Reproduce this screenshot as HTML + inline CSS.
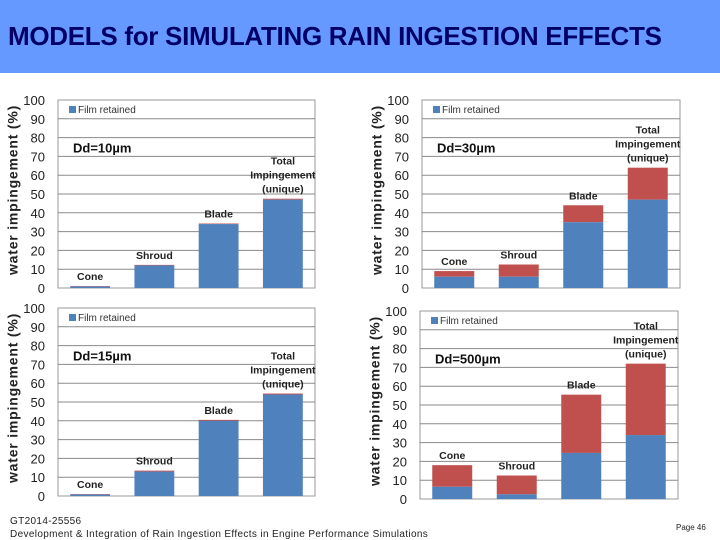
<!DOCTYPE html>
<html><head><meta charset="utf-8"><style>
body{margin:0;width:720px;height:540px;overflow:hidden;background:#fff;font-family:"Liberation Sans",sans-serif}
#hdr{position:absolute;left:0;top:0;width:720px;height:73px;background:#6699ff}
#ttl{position:absolute;left:8px;top:21px;font-size:26px;font-weight:bold;color:#000066;letter-spacing:-0.3px}
svg{position:absolute;left:0;top:0}
.ft{position:absolute;font-size:10px;color:#222;letter-spacing:0.35px}
</style></head><body>
<div id="hdr"><div id="ttl">MODELS for SIMULATING RAIN INGESTION EFFECTS</div></div>
<svg id="chart" width="720" height="540"></svg>
<div class="ft" style="left:10px;top:516px">GT2014-25556</div>
<div class="ft" style="left:10px;top:529px">Development &amp; Integration of Rain Ingestion Effects in Engine Performance Simulations</div>
<div class="ft" style="left:676px;top:523px;font-size:8px;letter-spacing:0">Page 46</div>
<script>
const categories=["Cone","Shroud","Blade","Total Impingement (unique)"];
const dropLabels=["Dd=10µm","Dd=30µm","Dd=15µm","Dd=500µm"];
const filmRetained10=[0.8,12,34,47];
const total10=[1,12.3,34.3,47.5];
const filmRetained30=[6,6,35,47];
const total30=[9,12.5,44,64];
const filmRetained15=[0.8,13,40,54];
const total15=[1,13.5,40.5,54.5];
const filmRetained500=[6.5,2.5,24.5,34];
const total500=[18,12.5,55.5,72];
const yTicks=[0,10,20,30,40,50,60,70,80,90,100];
const panels=[
 {x0:58,x1:315,y0:100,y1:288,blue:filmRetained10,tot:total10,lab:dropLabels[0],ax:14},
 {x0:422,x1:680,y0:100,y1:288,blue:filmRetained30,tot:total30,lab:dropLabels[1],ax:378},
 {x0:58,x1:315,y0:308,y1:496,blue:filmRetained15,tot:total15,lab:dropLabels[2],ax:14},
 {x0:420,x1:678,y0:311,y1:499,blue:filmRetained500,tot:total500,lab:dropLabels[3],ax:376}
];
const svg=document.getElementById('chart');
const NS="http://www.w3.org/2000/svg";
function mk(t,a,txt){const e=document.createElementNS(NS,t);for(const k in a)e.setAttribute(k,a[k]);if(txt!==undefined)e.textContent=txt;svg.appendChild(e);return e;}
panels.forEach((p,pi)=>{
 const y=v=>p.y1-(v/100)*(p.y1-p.y0);
 const cw=(p.x1-p.x0)/4, bw=cw*0.62;
 const bx=i=>p.x0+cw*i+(cw-bw)/2;
 let e=mk('rect',{x:p.x0,y:p.y0,width:p.x1-p.x0,height:p.y1-p.y0,fill:'#fff',stroke:'#999','stroke-width':1});
 
 yTicks.forEach(t=>{
  if(t>0&&t<100){e=mk('line',{x1:p.x0,x2:p.x1,y1:y(t),y2:y(t),stroke:'#8a8a8a','stroke-width':1});
  }
  e=mk('text',{x:p.x0-13,y:y(t)+5,'text-anchor':'end','font-size':13,fill:'#222'},t);
  
 });
 const cy=(p.y0+p.y1)/2-4;
 e=mk('text',{x:p.ax,y:cy,transform:`rotate(-90 ${p.ax} ${cy})`,'text-anchor':'middle','dominant-baseline':'middle','font-size':14,'font-weight':'bold','letter-spacing':0.8,fill:'#222'},'water impingement  (%)');
 
 e=mk('rect',{x:p.x0+11,y:p.y0+6,width:7,height:7,fill:'#4f81bd'});
 
 e=mk('text',{x:p.x0+20,y:p.y0+13,'font-size':10,fill:'#333'},'Film retained');
 
 e=mk('text',{x:p.x0+15,y:y(72),'font-size':13,'font-weight':'bold',fill:'#111'},p.lab);
 
 categories.forEach((c,i)=>{
  const b=p.blue[i],t=p.tot[i];
  e=mk('rect',{x:bx(i),y:y(t),width:bw,height:y(b)-y(t),fill:'#c0504d'});
  
  e=mk('rect',{x:bx(i),y:y(b),width:bw,height:p.y1-y(b),fill:'#4f81bd'});
  
  const cx=bx(i)+bw/2;
  if(i<3){
   e=mk('text',{x:cx,y:y(t)-6,'text-anchor':'middle','font-size':10.5,'font-weight':'bold',fill:'#222'},c);
   
  }else{
   ["Total","Impingement","(unique)"].forEach((l,k)=>{
    e=mk('text',{x:cx,y:y(t)-34+k*14,'text-anchor':'middle','font-size':10.5,'font-weight':'bold',fill:'#222'},l);
    
   });
  }
 });
});
</script>
</body></html>
